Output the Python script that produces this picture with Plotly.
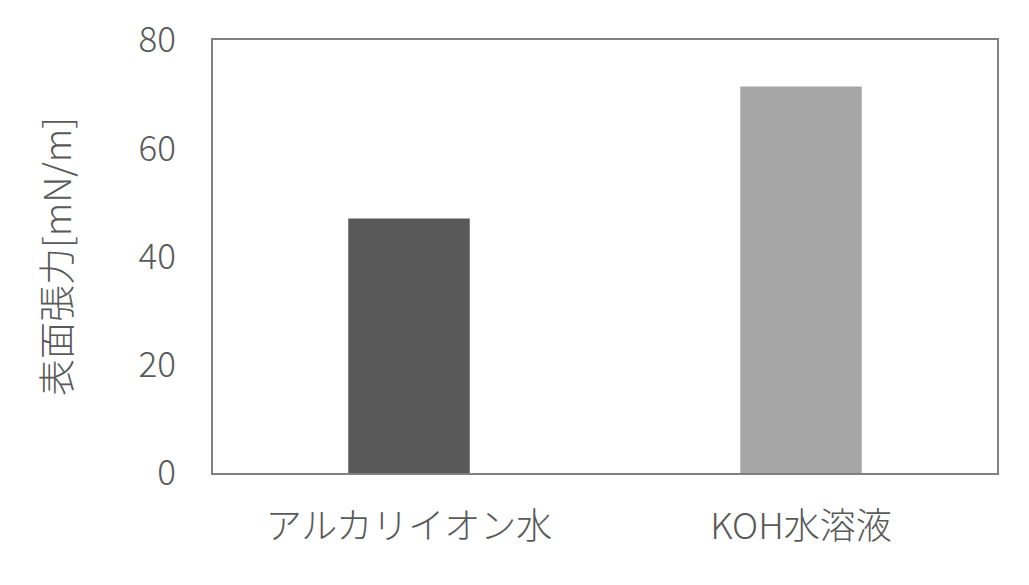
import plotly.graph_objects as go

# data
categories = ["アルカリイオン水", "KOH水溶液"]
tension = [47.0, 71.4]
bar_colors = ["#595959", "#A6A6A6"]
y_ticks = [0, 20, 40, 60, 80]

font_family = "Noto Sans CJK JP, Noto Sans, sans-serif"
text_color = "#595959"

fig = go.Figure(go.Bar(x=categories, y=tension, marker_color=bar_colors, marker_line_width=0))

# the page body has an 8px margin, so the margins are offset by that amount
fig.update_layout(
    width=1029, height=585,
    margin=dict(l=205, r=40, t=32, b=120, autoexpand=False),
    paper_bgcolor="white", plot_bgcolor="white",
    bargap=0.69,
    showlegend=False,
    font=dict(family=font_family, color=text_color, size=33, weight=300),
)

fig.update_xaxes(
    showline=True, linecolor="#808080", linewidth=2, mirror=True,
    showgrid=False, ticks="", ticklabelstandoff=21, automargin=False,
    tickfont=dict(size=36, color=text_color, family=font_family, weight=300),
)
fig.update_yaxes(
    range=[0, 80], tickvals=y_ticks,
    showline=True, linecolor="#808080", linewidth=2, mirror=True,
    showgrid=False, ticks="", ticklabelstandoff=28, zeroline=False, automargin=False,
    tickfont=dict(size=35, color=text_color, family=font_family, weight=300),
    title=dict(text="表面張力[mN/m]", standoff=56,
               font=dict(size=37, color=text_color, family=font_family, weight=300)),
)

fig.write_html("out.html")
